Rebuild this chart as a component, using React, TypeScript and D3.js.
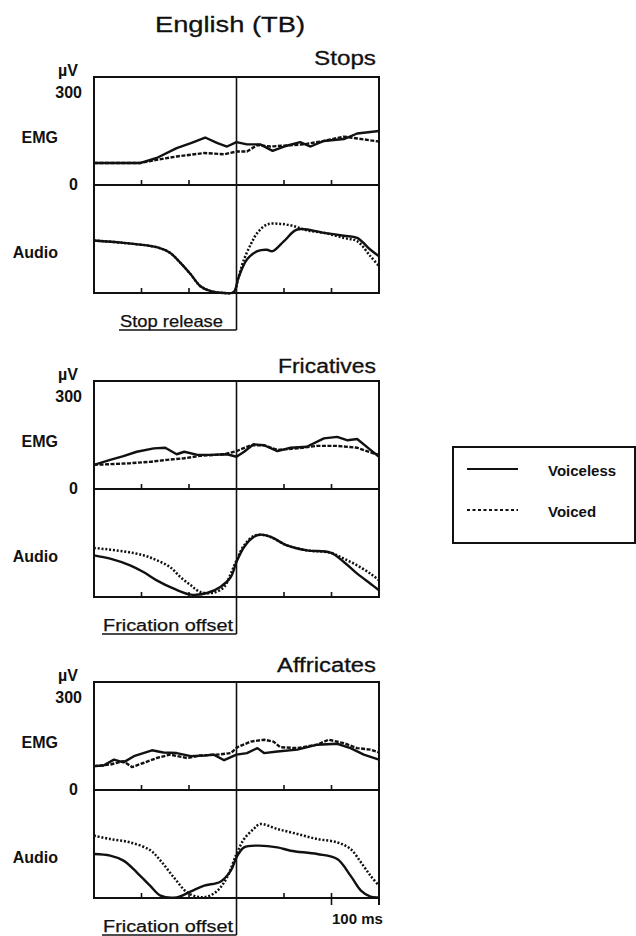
import React from "react";
import * as d3 from "d3";

type Pt = [number, number];

// Time axis (ms relative to the landmark) and EMG scale
const timeDomain: [number, number] = [-150, 150];
const timeTicks = [-100, -50, 50, 100];
const emgTickLabels = ["300", "0"];
const emgMax = 348;

const panelNames = ["Stops", "Fricatives", "Affricates"];
const landmarkLabels = ["Stop release", "Frication offset", "Frication offset"];
const legendLabels = ["Voiceless", "Voiced"];

// EMG (µV) — Stops
const stopsEmgVoiceless: Pt[] = [
  [-150, 71], [-101, 71], [-84, 87], [-63, 119], [-48, 135], [-33, 153], [-20, 135],
  [-10, 124], [0, 138], [11, 131], [25, 131], [38, 110], [50, 124], [67, 138],
  [78, 124], [92, 142], [113, 148], [127, 166], [150, 174],
];
const stopsEmgVoiced: Pt[] = [
  [-150, 71], [-101, 71], [-84, 81], [-63, 92], [-34, 103], [-13, 99], [0, 108],
  [11, 108], [22, 129], [36, 124], [50, 127], [71, 131], [92, 142], [113, 156],
  [127, 150], [150, 140],
];
// Audio envelope (relative) — Stops
const stopsAudioVoiceless: Pt[] = [
  [-150, 0.486], [-119, 0.464], [-84, 0.424], [-70, 0.372], [-59, 0.279], [-48, 0.171],
  [-38, 0.063], [-27, 0.017], [-13, 0], [-3, 0.008], [2, 0.14], [11, 0.31], [22, 0.387],
  [32, 0.4], [38, 0.387], [50, 0.48], [64, 0.588], [92, 0.557], [113, 0.53], [127, 0.51],
  [141, 0.4], [150, 0.34],
];
const stopsAudioVoiced: Pt[] = [
  [-150, 0.486], [-119, 0.464], [-84, 0.424], [-70, 0.372], [-59, 0.279], [-48, 0.171],
  [-38, 0.063], [-27, 0.017], [-13, 0], [-3, 0.008], [2, 0.14], [7, 0.29], [15, 0.45],
  [22, 0.557], [32, 0.634], [46, 0.64], [60, 0.62], [74, 0.58], [92, 0.557], [113, 0.51],
  [127, 0.48], [141, 0.34], [150, 0.25],
];

// Fricatives
const fricEmgVoiceless: Pt[] = [
  [-150, 78], [-133, 94], [-119, 106], [-105, 120], [-87, 131], [-75, 133], [-63, 112],
  [-55, 120], [-41, 110], [-27, 110], [-10, 112], [0, 104], [8, 120], [18, 144], [29, 141],
  [43, 122], [57, 133], [74, 136], [92, 163], [106, 168], [117, 157], [127, 161],
  [141, 126], [150, 104],
];
const fricEmgVoiced: Pt[] = [
  [-150, 78], [-133, 80], [-112, 83], [-90, 88], [-73, 94], [-55, 99], [-38, 107],
  [-13, 112], [0, 122], [15, 141], [29, 141], [43, 126], [64, 131], [85, 139], [106, 139],
  [127, 133], [141, 118], [150, 110],
];
const fricAudioVoiceless: Pt[] = [
  [-150, 0.386], [-133, 0.355], [-112, 0.293], [-98, 0.231], [-84, 0.154], [-66, 0.077],
  [-48, 0.022], [-31, 0.037], [-17, 0.093], [-6, 0.185], [0, 0.324], [8, 0.463], [18, 0.556],
  [25, 0.577], [36, 0.556], [53, 0.478], [74, 0.432], [99, 0.41], [113, 0.324], [127, 0.216],
  [141, 0.123], [150, 0.062],
];
const fricAudioVoiced: Pt[] = [
  [-150, 0.454], [-119, 0.423], [-98, 0.386], [-84, 0.34], [-70, 0.278], [-59, 0.185],
  [-48, 0.108], [-38, 0.046], [-24, 0.04], [-13, 0.093], [-6, 0.216], [0, 0.34], [8, 0.478],
  [18, 0.565], [25, 0.577], [36, 0.556], [53, 0.478], [74, 0.432], [99, 0.41], [113, 0.355],
  [127, 0.293], [141, 0.216], [150, 0.154],
];

// Affricates
const affrEmgVoiceless: Pt[] = [
  [-150, 77], [-140, 79], [-129, 98], [-119, 89], [-108, 109], [-89, 128], [-77, 121],
  [-63, 119], [-48, 109], [-34, 111], [-24, 114], [-13, 96], [0, 114], [11, 119], [22, 135],
  [29, 119], [43, 124], [64, 130], [85, 146], [106, 149], [120, 135], [134, 114], [150, 98],
];
const affrEmgVoiced: Pt[] = [
  [-150, 77], [-133, 82], [-119, 93], [-110, 74], [-98, 87], [-84, 103], [-70, 114],
  [-52, 103], [-38, 111], [-20, 114], [-6, 119], [1, 138], [15, 156], [29, 162], [39, 156],
  [46, 138], [64, 135], [85, 146], [97, 162], [113, 151], [127, 135], [141, 130], [150, 121],
];
const affrAudioVoiceless: Pt[] = [
  [-150, 0.407], [-133, 0.392], [-119, 0.346], [-105, 0.238], [-91, 0.114], [-80, 0.022],
  [-63, 0.006], [-48, 0.062], [-34, 0.114], [-17, 0.151], [-6, 0.253], [0, 0.377], [8, 0.469],
  [22, 0.485], [43, 0.469], [57, 0.438], [85, 0.407], [106, 0.361], [120, 0.207], [131, 0.068],
  [141, 0.012], [150, 0.006],
];
const affrAudioVoiced: Pt[] = [
  [-150, 0.577], [-133, 0.546], [-112, 0.515], [-91, 0.444], [-80, 0.346], [-66, 0.191],
  [-52, 0.052], [-41, 0.012], [-31, 0.012], [-20, 0.068], [-10, 0.191], [0, 0.407], [8, 0.546],
  [18, 0.639], [25, 0.685], [43, 0.639], [64, 0.593], [85, 0.546], [106, 0.515], [120, 0.454],
  [131, 0.33], [141, 0.207], [150, 0.114],
];

const panels = [
  { emg: [stopsEmgVoiceless, stopsEmgVoiced], audio: [stopsAudioVoiceless, stopsAudioVoiced] },
  { emg: [fricEmgVoiceless, fricEmgVoiced], audio: [fricAudioVoiceless, fricAudioVoiced] },
  { emg: [affrEmgVoiceless, affrEmgVoiced], audio: [affrAudioVoiceless, affrAudioVoiced] },
];

// Layout
const W = 636;
const H = 936;
const plotLeft = 94;
const plotRight = 379;
const panelTops = [77, 381, 682];
const titleBaselines = [65, 373, 672];
const titleWidths = [62, 98, 99];
const labelStarts = [120, 103, 103];
const labelWidths = [103, 130, 130];
const emgH = 108;
const audioH = 108;
const FONT = "'Liberation Sans', Arial, Helvetica, sans-serif";
const INK = "#111";
const TRACE_W = 2.4;

const x = d3.scaleLinear().domain(timeDomain).range([plotLeft, plotRight]);

function Panel({ idx }: { idx: number }) {
  const top = panelTops[idx];
  const mid = top + emgH;
  const bottom = mid + audioH;
  const yEmg = d3.scaleLinear().domain([0, emgMax]).range([mid, top]);
  const yAudio = d3.scaleLinear().domain([0, 1]).range([bottom, mid]);
  const emgLine = d3.line<Pt>().x((d) => x(d[0])).y((d) => yEmg(d[1])).curve(d3.curveLinear);
  const audioLine = d3
    .line<Pt>()
    .x((d) => x(d[0]))
    .y((d) => yAudio(d[1]))
    .curve(d3.curveCatmullRom.alpha(0.5));
  const data = panels[idx];
  const cx = x(0);
  const underY = bottom + 37;
  const last = idx === panels.length - 1;

  return (
    <g>
      <text
        x={376 - titleWidths[idx]}
        y={titleBaselines[idx]}
        fontSize={20}
        textLength={titleWidths[idx]}
        lengthAdjust="spacingAndGlyphs"
        fill={INK}
        stroke={INK}
        strokeWidth={0.3}
      >
        {panelNames[idx]}
      </text>

      {/* left-hand labels */}
      <g fontWeight="bold" fontSize={16} fill={INK} textAnchor="end">
        <text x={78} y={top - 1}>µV</text>
        <text x={82} y={yEmg(300) + 6}>{emgTickLabels[0]}</text>
        <text x={58} y={top + 66}>EMG</text>
        <text x={78} y={yEmg(0) + 5}>{emgTickLabels[1]}</text>
        <text x={58} y={top + 181}>Audio</text>
      </g>

      {/* traces */}
      <path d={emgLine(data.emg[0]) ?? ""} fill="none" stroke={INK} strokeWidth={TRACE_W} strokeLinejoin="round" />
      <path
        d={emgLine(data.emg[1]) ?? ""}
        fill="none"
        stroke={INK}
        strokeWidth={TRACE_W}
        strokeDasharray="4,1.5"
        strokeLinejoin="round"
      />
      <path d={audioLine(data.audio[0]) ?? ""} fill="none" stroke={INK} strokeWidth={TRACE_W} strokeLinejoin="round" />
      <path
        d={audioLine(data.audio[1]) ?? ""}
        fill="none"
        stroke={INK}
        strokeWidth={2.5}
        strokeDasharray="2,1.8"
      />

      {/* frame */}
      <rect
        x={plotLeft}
        y={top}
        width={plotRight - plotLeft}
        height={bottom - top}
        fill="none"
        stroke={INK}
        strokeWidth={2}
      />
      <line x1={plotLeft} x2={plotRight} y1={mid} y2={mid} stroke={INK} strokeWidth={2} />

      {/* ticks pointing up from each baseline */}
      {timeTicks.map((t) => (
        <g key={t}>
          <line x1={x(t)} x2={x(t)} y1={mid} y2={mid - 5} stroke={INK} strokeWidth={1.6} />
          <line
            x1={x(t)}
            x2={x(t)}
            y1={last && t === 100 ? bottom + 7 : bottom}
            y2={bottom - 5}
            stroke={INK}
            strokeWidth={1.6}
          />
        </g>
      ))}
      {last && (
        <line x1={plotRight} x2={plotRight} y1={bottom} y2={bottom + 7} stroke={INK} strokeWidth={2} />
      )}

      {/* landmark line and label */}
      <line x1={cx} x2={cx} y1={top} y2={Math.min(underY, H)} stroke={INK} strokeWidth={1.6} />
      <line x1={labelStarts[idx] - 1} x2={cx} y1={underY} y2={underY} stroke={INK} strokeWidth={1.6} />
      <text
        x={labelStarts[idx]}
        y={underY - 3}
        fontSize={16}
        textLength={labelWidths[idx]}
        lengthAdjust="spacingAndGlyphs"
        fill={INK}
        stroke={INK}
        strokeWidth={0.25}
      >
        {landmarkLabels[idx]}
      </text>
      {last && (
        <text x={332} y={924} fontSize={15} fontWeight="bold" fill={INK}>
          100 ms
        </text>
      )}
    </g>
  );
}

export default function App() {
  return (
    <svg
      width={W}
      height={H}
      viewBox={`0 0 ${W} ${H}`}
      style={{ position: "absolute", left: 0, top: 0, background: "#fff" }}
      fontFamily={FONT}
    >
      <rect width={W} height={H} fill="#fff" />
      <text
        x={155}
        y={32}
        fontSize={22}
        textLength={150}
        lengthAdjust="spacingAndGlyphs"
        fill={INK}
        stroke={INK}
        strokeWidth={0.3}
      >
        English (TB)
      </text>
      {panels.map((_, i) => (
        <Panel key={i} idx={i} />
      ))}

      {/* legend */}
      <g>
        <rect x={453} y={447} width={182} height={96} fill="none" stroke={INK} strokeWidth={2} />
        <line x1={467} x2={518} y1={469} y2={469} stroke={INK} strokeWidth={2.2} />
        <line x1={467} x2={518} y1={510} y2={510} stroke={INK} strokeWidth={2.2} strokeDasharray="3,2.5" />
        <text x={548} y={476} fontSize={15} fontWeight="bold" fill={INK}>
          {legendLabels[0]}
        </text>
        <text x={548} y={517} fontSize={15} fontWeight="bold" fill={INK}>
          {legendLabels[1]}
        </text>
      </g>
    </svg>
  );
}
